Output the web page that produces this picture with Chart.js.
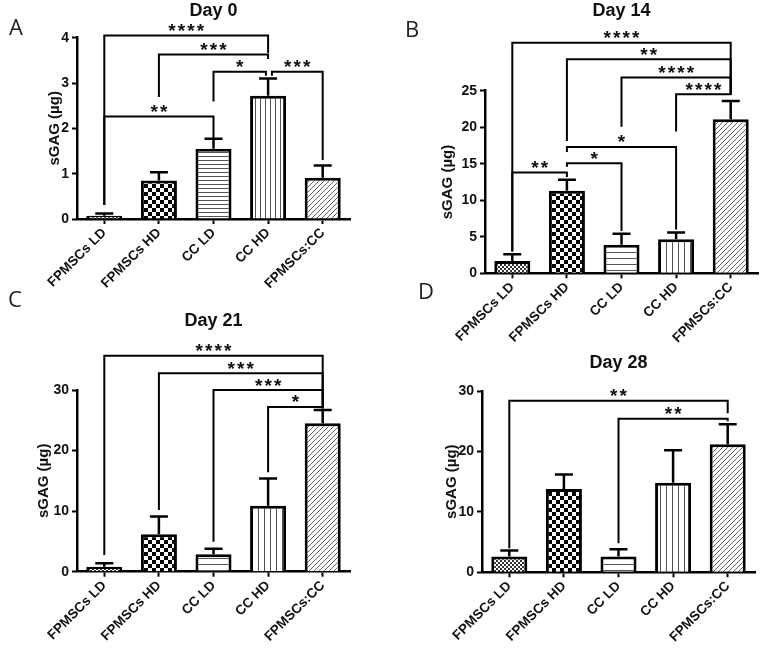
<!DOCTYPE html>
<html>
<head>
<meta charset="utf-8">
<script src="https://cdn.jsdelivr.net/npm/chart.js@4.4.1/dist/chart.umd.min.js"></script>
<style>
html, body { margin: 0; padding: 0; background: #fff; }
#wrap { position: relative; width: 764px; height: 648px; overflow: hidden; }
#wrap canvas { position: absolute; left: 0; top: 0; }
.huruf { position: absolute; font-family: "Open Sans", sans-serif; font-size: 22px; color: #222; line-height: 22px; }
</style>
</head>
<body>
<div id="wrap">
  <canvas id="grafikA" width="764" height="648"></canvas>
  <canvas id="grafikB" width="764" height="648"></canvas>
  <canvas id="grafikC" width="764" height="648"></canvas>
  <canvas id="grafikD" width="764" height="648"></canvas>
  <div class="huruf" style="left:9px;top:15px">A</div>
  <div class="huruf" style="left:405px;top:17px">B</div>
  <div class="huruf" style="left:8px;top:287px">C</div>
  <div class="huruf" style="left:418px;top:279px">D</div>
</div>
<script>
// data
const kategori = ['FPMSCs LD', 'FPMSCs HD', 'CC LD', 'CC HD', 'FPMSCs:CC'];

const hari0Rata = [0.07, 0.85, 1.55, 2.72, 0.91];
const hari0Galat = [0.05, 0.18, 0.22, 0.38, 0.27];
const hari14Rata = [1.7, 11.3, 3.9, 4.65, 21.1];
const hari14Galat = [0.9, 1.5, 1.5, 0.95, 2.5];
const hari21Rata = [0.8, 6.2, 2.9, 10.9, 24.5];
const hari21Galat = [0.6, 2.9, 0.9, 4.5, 2.2];
const hari28Rata = [2.6, 13.8, 2.6, 14.8, 21.2];
const hari28Galat = [1.0, 2.4, 1.2, 5.4, 3.3];

// braket signifikansi: [dari, ke, tinggi garis, ujung kiri, ujung kanan, bintang]
const braket0 = [
    [0, 3, 4.05, 0.31, 3.66, '****'],
    [1, 3, 3.63, 2.69, 3.53, '***'],
    [2, 2.96, 3.25, 2.59, 3.16, '*'],
    [3.07, 4, 3.25, 3.16, 1.30, '***'],
    [0, 2, 2.26, 0.31, 1.78, '**']
];
const braket14 = [
    [0, 4, 31.55, 3.0, 24.4, '****'],
    [1, 4, 29.3, 18.1, 24.4, '**'],
    [2, 4, 26.8, 20.05, 24.4, '****'],
    [3, 4, 24.5, 19.4, 24.4, '****'],
    [1, 3, 17.3, 16.6, 6.0, '*'],
    [1, 2, 15.05, 14.6, 5.8, '*'],
    [0, 1, 13.8, 3.0, 13.2, '**']
];
const braket21 = [
    [0, 4, 35.65, 2.75, 27.0, '****'],
    [1, 4, 32.75, 10.2, 27.0, '***'],
    [2, 4, 30.0, 4.95, 27.0, '***'],
    [3, 4, 27.2, 16.4, 27.0, '*']
];
const braket28 = [
    [0, 4, 28.4, 3.97, 26.3, '**'],
    [2, 4, 25.4, 4.8, 25.0, '**']
];

const hurufTeks = '"Liberation Sans", Arial, sans-serif';

// bikin pola arsiran untuk isi batang
function buatPola(jenis, jarak) {
    const c = document.createElement('canvas');
    const x = c.getContext('2d');
    if (jenis === 'halus') {
        c.width = 4; c.height = 4;
        x.fillStyle = '#fff'; x.fillRect(0, 0, 4, 4);
        x.fillStyle = '#333';
        x.fillRect(0, 0, 2, 2); x.fillRect(2, 2, 2, 2);
    } else if (jenis === 'kotak') {
        c.width = 8; c.height = 8;
        x.fillStyle = '#fff'; x.fillRect(0, 0, 8, 8);
        x.fillStyle = '#000';
        x.fillRect(0, 0, 4, 4); x.fillRect(4, 4, 4, 4);
    } else if (jenis === 'datar') {
        c.width = 4; c.height = jarak;
        x.fillStyle = '#fff'; x.fillRect(0, 0, 4, jarak);
        x.fillStyle = '#555'; x.fillRect(0, 0, 4, 1);
    } else if (jenis === 'tegak') {
        c.width = jarak; c.height = 4;
        x.fillStyle = '#fff'; x.fillRect(0, 0, jarak, 4);
        x.fillStyle = '#555'; x.fillRect(0, 0, 1, 4);
    } else {
        c.width = 5; c.height = 5;
        x.fillStyle = '#fff'; x.fillRect(0, 0, 5, 5);
        x.strokeStyle = '#666'; x.lineWidth = 1;
        x.beginPath();
        x.moveTo(-1, 6); x.lineTo(6, -1);
        x.moveTo(-1, 1); x.lineTo(1, -1);
        x.moveTo(4, 6); x.lineTo(6, 4);
        x.stroke();
    }
    return document.createElement('canvas').getContext('2d').createPattern(c, 'repeat');
}

// plugin: batang galat, braket, bintang dan judul
const pluginTambahan = {
    id: 'tambahan',
    afterDatasetsDraw(chart, args, opsi) {
        const ctx = chart.ctx;
        const sx = chart.scales.x;
        const sy = chart.scales.y;
        const meta = chart.getDatasetMeta(0);
        ctx.save();
        ctx.strokeStyle = '#000';
        ctx.lineCap = 'butt';

        // batang galat (hanya ke atas)
        ctx.lineWidth = 2.5;
        opsi.galat.forEach(function (g, i) {
            const el = meta.data[i];
            const atas = sy.getPixelForValue(opsi.rata[i] + g);
            ctx.beginPath();
            ctx.moveTo(el.x, el.y);
            ctx.lineTo(el.x, atas);
            ctx.moveTo(el.x - 9, atas);
            ctx.lineTo(el.x + 9, atas);
            ctx.stroke();
        });

        // braket signifikansi
        ctx.lineWidth = 2;
        ctx.fillStyle = '#111';
        ctx.font = 'bold 19px ' + hurufTeks;
        ctx.textAlign = 'center';
        ctx.textBaseline = 'alphabetic';
        opsi.braket.forEach(function (b) {
            const x1 = sx.getPixelForValue(b[0]);
            const x2 = sx.getPixelForValue(b[1]);
            const yGaris = sy.getPixelForValue(b[2]);
            ctx.beginPath();
            ctx.moveTo(x1, sy.getPixelForValue(b[3]));
            ctx.lineTo(x1, yGaris);
            ctx.lineTo(x2, yGaris);
            ctx.lineTo(x2, sy.getPixelForValue(b[4]));
            ctx.stroke();
            const n = b[5].length;
            const tengah = (x1 + x2) / 2;
            for (let k = 0; k < n; k++) {
                ctx.fillText('*', tengah + (k - (n - 1) / 2) * 9.5, yGaris + 1.5);
            }
        });

        // judul panel
        ctx.font = 'bold 18px ' + hurufTeks;
        ctx.textBaseline = 'middle';
        ctx.fillText(opsi.judul, (chart.chartArea.left + chart.chartArea.right) / 2, opsi.judulY);
        ctx.restore();
    }
};

function gambarPanel(idKanvas, judul, rata, galat, braket, batasY, langkah, tata) {
    const jarak = tata.rapat ? 4 : 6;
    const pola = [
        buatPola('halus'),
        buatPola('kotak'),
        buatPola('datar', jarak),
        buatPola('tegak', tata.rapat ? 5 : 6),
        buatPola('miring')
    ];
    new Chart(document.getElementById(idKanvas), {
        type: 'bar',
        data: {
            labels: kategori,
            datasets: [{
                data: rata,
                backgroundColor: pola,
                borderColor: '#000',
                borderWidth: 3,
                barPercentage: 0.66,
                categoryPercentage: 1
            }]
        },
        options: {
            responsive: false,
            animation: false,
            events: [],
            layout: {
                padding: {
                    left: tata.kiri - tata.lebarY,
                    top: tata.atas,
                    right: 764 - tata.kanan,
                    bottom: 648 - tata.bawah - 70
                }
            },
            plugins: {
                legend: { display: false },
                tooltip: { enabled: false },
                tambahan: { judul: judul, judulY: tata.judulY, rata: rata, galat: galat, braket: braket }
            },
            scales: {
                x: {
                    afterFit: function (s) { s.height = 70; },
                    border: { display: true, color: '#000', width: 2.5 },
                    grid: { offset: false, drawOnChartArea: false, drawTicks: true, tickLength: 5, tickWidth: 2, tickColor: '#000' },
                    ticks: {
                        autoSkip: false, minRotation: 45, maxRotation: 45, padding: 1,
                        color: '#111', font: { family: hurufTeks, size: 13.5, weight: 'bold' }
                    }
                },
                y: {
                    min: 0,
                    max: batasY,
                    afterFit: function (s) { s.width = tata.lebarY; },
                    border: { display: true, color: '#000', width: 2.5 },
                    grid: { drawOnChartArea: false, drawTicks: true, tickLength: 5, tickWidth: 2, tickColor: '#000' },
                    ticks: {
                        stepSize: langkah, padding: 3,
                        color: '#111', font: { family: hurufTeks, size: 14, weight: 'bold' }
                    },
                    title: {
                        display: true, text: 'sGAG (µg)', padding: 0,
                        color: '#111', font: { family: hurufTeks, size: 15, weight: 'bold' }
                    }
                }
            }
        },
        plugins: [pluginTambahan]
    });
}

window.onload = function () {
    gambarPanel('grafikA', 'Day 0', hari0Rata, hari0Galat, braket0, 4, 1,
        { kiri: 77, atas: 37.7, kanan: 350, bawah: 219, lebarY: 31, judulY: 11, rapat: true });
    gambarPanel('grafikB', 'Day 14', hari14Rata, hari14Galat, braket14, 25, 5,
        { kiri: 485, atas: 90.7, kanan: 758, bawah: 273.3, lebarY: 46, judulY: 11 });
    gambarPanel('grafikC', 'Day 21', hari21Rata, hari21Galat, braket21, 30, 10,
        { kiri: 77, atas: 390, kanan: 350, bawah: 571.7, lebarY: 42, judulY: 321 });
    gambarPanel('grafikD', 'Day 28', hari28Rata, hari28Galat, braket28, 30, 10,
        { kiri: 482, atas: 391, kanan: 755, bawah: 572.3, lebarY: 39, judulY: 363 });
};
</script>
</body>
</html>
